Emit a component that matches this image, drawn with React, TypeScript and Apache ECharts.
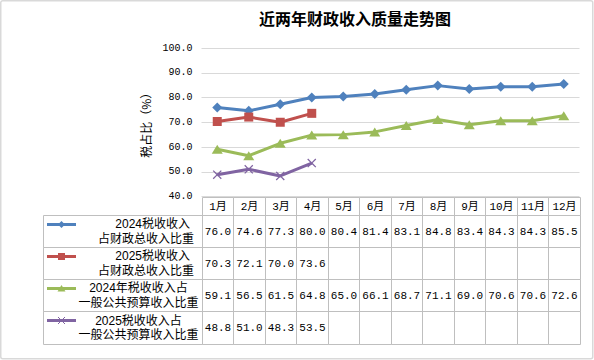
import React, { useEffect, useRef } from "react";
import * as echarts from "echarts";

const months = ["1月", "2月", "3月", "4月", "5月", "6月", "7月", "8月", "9月", "10月", "11月", "12月"];
const seriesNames = [
  ["2024税收收入", "占财政总收入比重"],
  ["2025税收收入", "占财政总收入比重"],
  ["2024年税收收入占", "一般公共预算收入比重"],
  ["2025税收收入占", "一般公共预算收入比重"],
];
const tax2024OfTotal = [76.0, 74.6, 77.3, 80.0, 80.4, 81.4, 83.1, 84.8, 83.4, 84.3, 84.3, 85.5];
const tax2025OfTotal = [70.3, 72.1, 70.0, 73.6];
const tax2024OfBudget = [59.1, 56.5, 61.5, 64.8, 65.0, 66.1, 68.7, 71.1, 69.0, 70.6, 70.6, 72.6];
const tax2025OfBudget = [48.8, 51.0, 48.3, 53.5];
const yTicks = [40, 50, 60, 70, 80, 90, 100];

const colors = ["#4F81BD", "#C0504D", "#9BBB59", "#8064A2"];
const allValues = [tax2024OfTotal, tax2025OfTotal, tax2024OfBudget, tax2025OfBudget];
const symbols = ["diamond", "rect", "triangle", "path://M0,1L1,0L5,4L9,0L10,1L6,5L10,9L9,10L5,6L1,10L0,9L4,5Z"];
const symbolSizes: any[] = [10, 9, [11, 9], 9];

const NUM_FONT = "'Liberation Mono', 'Noto Sans CJK SC', monospace";
const CJK_FONT = "'Noto Sans CJK SC', sans-serif";
const LEGEND_FONT = "'Liberation Sans', 'Noto Sans CJK SC', sans-serif";
const LEGEND_UNITS = 5.033;
const HEADER_UNITS = 0.59;

type Cell = { col: number; row: number; text: string; kind: string; s: number };
const cells: Cell[] = [];
months.forEach((m, i) => cells.push({ col: i, row: 0, text: m, kind: "h", s: -1 }));
allValues.forEach((vals, r) => {
  cells.push({ col: -1, row: r + 1, text: "", kind: "l", s: r });
  months.forEach((_, i) =>
    cells.push({ col: i, row: r + 1, text: vals[i] !== undefined ? vals[i].toFixed(1) : "", kind: "v", s: r })
  );
});

function snap(v: number) {
  return Math.round(v) + 0.5;
}

function markerShape(s: number, cx: number, cy: number, color: string): any {
  if (s === 0) {
    return { type: "polygon", shape: { points: [[cx, cy - 3.5], [cx + 3.5, cy], [cx, cy + 3.5], [cx - 3.5, cy]] }, style: { fill: color } };
  }
  if (s === 1) {
    return { type: "rect", shape: { x: cx - 3.5, y: cy - 3.5, width: 7, height: 7 }, style: { fill: color } };
  }
  if (s === 2) {
    return { type: "polygon", shape: { points: [[cx, cy - 3.5], [cx + 4, cy + 3], [cx - 4, cy + 3]] }, style: { fill: color } };
  }
  return {
    type: "group",
    children: [
      { type: "line", shape: { x1: cx - 3.5, y1: cy - 3.5, x2: cx + 3.5, y2: cy + 3.5 }, style: { stroke: color, lineWidth: 1 } },
      { type: "line", shape: { x1: cx + 3.5, y1: cy - 3.5, x2: cx - 3.5, y2: cy + 3.5 }, style: { stroke: color, lineWidth: 1 } },
    ],
  };
}

function legendText(text: string, x: number, y: number, align: string): any {
  return {
    type: "text",
    style: { text, x, y, align, verticalAlign: "middle", fontSize: 12, lineHeight: 14, fontFamily: LEGEND_FONT, fill: "#000" },
  };
}

export default function App() {
  const ref = useRef<HTMLDivElement>(null);
  useEffect(() => {
    if (!ref.current) return;
    const chart = echarts.init(ref.current, undefined, { renderer: "svg" });
    const lineSeries = allValues.map((vals, k) => ({
      type: "line",
      name: seriesNames[k].join(""),
      xAxisIndex: 0,
      yAxisIndex: 0,
      data: vals,
      symbol: symbols[k],
      symbolSize: symbolSizes[k],
      showAllSymbol: true,
      lineStyle: { color: colors[k], width: 3 },
      itemStyle: { color: colors[k] },
      z: 3,
    }));
    const tableSeries = {
      type: "custom",
      xAxisIndex: 1,
      yAxisIndex: 1,
      data: cells.map((c) => [c.col, c.row]),
      renderItem: (params: any, api: any) => {
        const c = cells[params.dataIndex];
        const col = api.value(0);
        const row = api.value(1);
        const top = row === 0 ? 0 : HEADER_UNITS + row - 1;
        const bottom = row === 0 ? HEADER_UNITS : top + 1;
        const x0 = col < 0 ? -LEGEND_UNITS : col;
        const x1 = col < 0 ? 0 : col + 1;
        const p0 = api.coord([x0, top]);
        const p1 = api.coord([x1, bottom]);
        const L = snap(p0[0]);
        const T = snap(p0[1]);
        const R = snap(p1[0]);
        const B = snap(p1[1]);
        const children: any[] = [
          {
            type: "rect",
            shape: { x: L, y: T, width: R - L, height: B - T },
            style: { fill: "none", stroke: "#BFBFBF", lineWidth: 1 },
          },
        ];
        if (c.kind === "l") {
          const color = colors[c.s];
          const iy = T + 9;
          children.push({ type: "line", shape: { x1: L + 3.5, y1: iy, x2: L + 32.5, y2: iy }, style: { stroke: color, lineWidth: 3 } });
          children.push(markerShape(c.s, L + 18, iy, color));
          const cy = (T + B) / 2;
          const [l1, l2] = seriesNames[c.s];
          if (c.s < 2) {
            children.push(legendText(l1, R - 12.5, cy - 7.3, "right"));
            children.push(legendText(l2, R - 8.5, cy + 7.3, "right"));
          } else {
            children.push(legendText(l1, L + 95, cy - 7.3, "center"));
            children.push(legendText(l2, L + 95, cy + 7.3, "center"));
          }
        } else if (c.text) {
          children.push({
            type: "text",
            style: {
              text: c.text,
              x: (L + R) / 2,
              y: (T + B) / 2,
              align: "center",
              verticalAlign: "middle",
              fontSize: 11,
              fontFamily: NUM_FONT,
              fill: "#000",
            },
          });
        }
        return { type: "group", children };
      },
      z: 2,
    };
    chart.setOption({
      animation: false,
      backgroundColor: "#fff",
      graphic: [
        {
          type: "rect",
          shape: { x: 0.75, y: 0.75, width: 592, height: 358, r: 2 },
          style: { fill: "none", stroke: "#D9D9D9", lineWidth: 1.5 },
          silent: true,
        },
        {
          type: "text",
          x: 355,
          y: 18,
          style: {
            text: "近两年财政收入质量走势图",
            align: "center",
            verticalAlign: "middle",
            fontSize: 16,
            fontWeight: "bold",
            fontFamily: CJK_FONT,
            fill: "#000",
          },
        },
      ],
      grid: [
        { left: 201.5, right: 14.5, top: 48, bottom: 163.5 },
        { left: 43.3, right: 14.5, top: 196.5, bottom: 16.5 },
      ],
      xAxis: [
        {
          type: "category",
          gridIndex: 0,
          data: months,
          boundaryGap: true,
          axisLine: { show: false },
          axisTick: { show: false },
          axisLabel: { show: false },
          splitLine: { show: false },
        },
        { type: "value", gridIndex: 1, min: -LEGEND_UNITS, max: 12, show: false },
      ],
      yAxis: [
        {
          type: "value",
          gridIndex: 0,
          min: yTicks[0],
          max: yTicks[yTicks.length - 1],
          interval: 10,
          name: "税占比（%）",
          nameLocation: "middle",
          nameRotate: 90,
          nameGap: 45,
          nameTextStyle: { fontSize: 12, fontFamily: CJK_FONT, color: "#000" },
          axisLine: { show: false },
          axisTick: { show: false },
          axisLabel: {
            margin: 9,
            fontSize: 10,
            fontFamily: NUM_FONT,
            color: "#000",
            formatter: (v: number) => v.toFixed(1),
          },
          splitLine: { lineStyle: { color: "#D9D9D9", width: 1 } },
        },
        { type: "value", gridIndex: 1, min: 0, max: HEADER_UNITS + 4, inverse: true, show: false },
      ],
      series: [...lineSeries, tableSeries],
    });
    return () => chart.dispose();
  }, []);
  return <div ref={ref} style={{ position: "fixed", left: 0, top: 0, width: 594, height: 360 }} />;
}
